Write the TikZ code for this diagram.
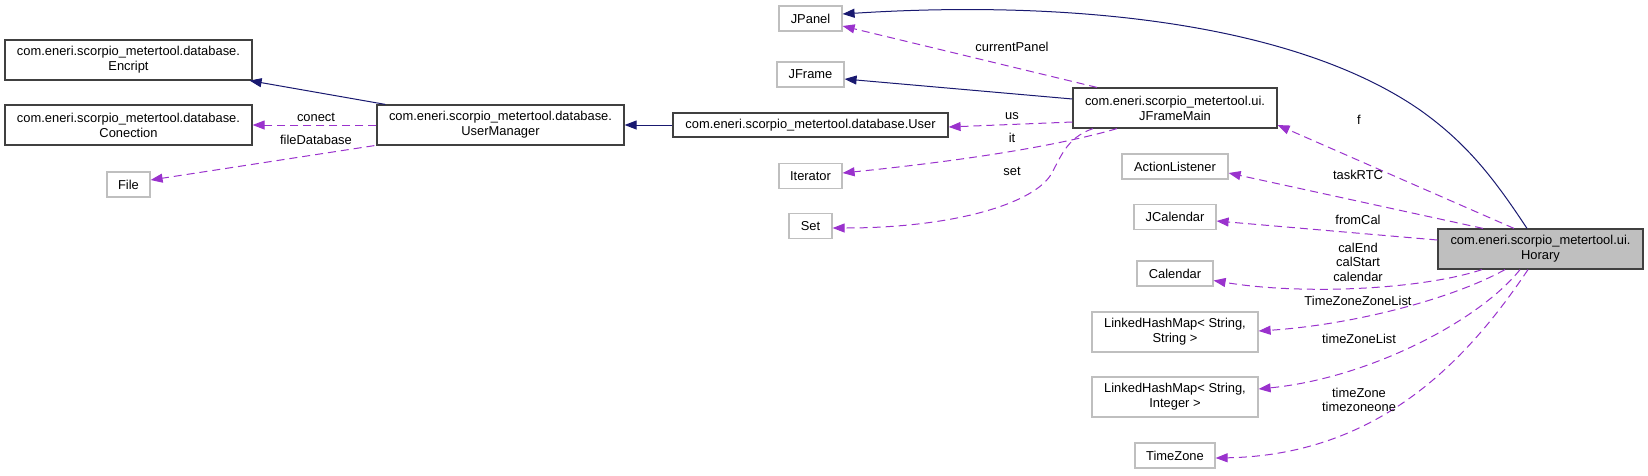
\documentclass[tikz,border=0pt]{standalone}
\usepackage{fontspec}
\setmainfont{Liberation Sans}
\usetikzlibrary{arrows.meta,calc}
\newcommand\dgfont{\fontsize{12.9}{15}\selectfont}
\definecolor{navyc}{HTML}{191970}
\definecolor{orchidc}{HTML}{9A32CD}
\definecolor{gtwentyfive}{HTML}{404040}
\definecolor{gseventyfive}{HTML}{BFBFBF}
\tikzset{
  cls/.style={draw=gtwentyfive, fill=white, line width=1.2pt, inner sep=0pt, align=center, font=\dgfont},
  ext/.style={cls, draw=gseventyfive},
  cur/.style={cls, fill=gseventyfive},
  inh/.style={draw=navyc, line width=1pt, -{Triangle[length=12pt,width=9pt]}},
  usedge/.style={draw=orchidc, line width=1pt, dash pattern=on 8pt off 5pt, -{Triangle[length=12pt,width=9pt]}},
  lbl/.style={font=\dgfont, inner sep=0pt, align=center}
}
\begin{document}
\begin{tikzpicture}[x=1pt,y=-1pt]
\useasboundingbox (0,0) rectangle (1648,475);
% column 1
\node[cls, minimum width=247pt, minimum height=40pt] (enc) at (128.5,60) {com.eneri.scorpio\_metertool.database.\\Encript};
\node[cls, minimum width=247pt, minimum height=40pt] (con) at (128.5,125) {com.eneri.scorpio\_metertool.database.\\Conection};
\node[ext, minimum width=43pt, minimum height=25pt] (file) at (128.5,184.5) {File};
% column 2
\node[cls, minimum width=247pt, minimum height=40pt] (um) at (500.5,125) {com.eneri.scorpio\_metertool.database.\\UserManager};
% column 3
\node[ext, minimum width=63pt, minimum height=25pt] (jpanel) at (810.5,18.5) {JPanel};
\node[ext, minimum width=67pt, minimum height=25pt] (jframe) at (810.5,74.5) {JFrame};
\node[cls, minimum width=275pt, minimum height=24pt] (user) at (810.5,125) {com.eneri.scorpio\_metertool.database.User};
\node[ext, minimum width=63pt, minimum height=25pt] (iter) at (810.5,176) {Iterator};
\node[ext, minimum width=43pt, minimum height=25pt] (set) at (810.5,226) {Set};
% column 4
\node[cls, minimum width=204pt, minimum height=40pt] (jfm) at (1175,108) {com.eneri.scorpio\_metertool.ui.\\JFrameMain};
\node[ext, minimum width=106pt, minimum height=25pt] (al) at (1175,166.5) {ActionListener};
\node[ext, minimum width=82pt, minimum height=25pt] (jcal) at (1175,217) {JCalendar};
\node[ext, minimum width=76pt, minimum height=25pt] (cal) at (1175,273.5) {Calendar};
\node[ext, minimum width=166pt, minimum height=40pt] (lhms) at (1175,332) {LinkedHashMap< String,\\String >};
\node[ext, minimum width=166pt, minimum height=40pt] (lhmi) at (1175,397) {LinkedHashMap< String,\\Integer >};
\node[ext, minimum width=80pt, minimum height=25pt] (tz) at (1175,455.5) {TimeZone};
% column 5
\node[cur, minimum width=205pt, minimum height=40pt] (hor) at (1540.5,249) {com.eneri.scorpio\_metertool.ui.\\Horary};

% inheritance edges
\draw[inh] ($(hor.north)+(-13.5,0)$) .. controls (1495,180) and (1468,144) .. (1420,110)
  .. controls (1290,20) and (1060,0) .. ($(jpanel.east)+(0,-4.5)$);
\draw[inh] ($(jfm.west)+(0,-9)$) -- ($(jframe.east)+(0,4.5)$);
\draw[inh] (user.west) -- (um.east);
\draw[inh] ($(um.north west)+(9,0)$) -- ($(enc.south east)+(-3,0)$);

% usage edges
\draw[usedge] ($(hor.north)+(-26.5,0)$) -- ($(jfm.east)+(0,17)$);
\draw[usedge] ($(hor.north)+(-57.5,0)$) -- ($(al.east)+(0,6.5)$);
\draw[usedge] ($(hor.west)+(0,-9)$) -- ($(jcal.east)+(0,4)$);
\draw[usedge] ($(hor.south)+(-58.5,0)$) .. controls (1420,290) and (1300,295) .. ($(cal.east)+(0,7)$);
\draw[usedge] ($(hor.south)+(-35.5,0)$) .. controls (1450,300) and (1350,325) .. ($(lhms.east)+(0,-1)$);
\draw[usedge] ($(hor.south)+(-20.5,0)$) .. controls (1480,320) and (1370,378) .. ($(lhmi.east)+(0,-8)$);
\draw[usedge] ($(hor.south)+(-12.5,0)$) .. controls (1468,359) and (1380,455) .. ($(tz.east)+(0,2.5)$);

\draw[usedge] ($(jfm.north)+(-78,0)$) -- ($(jpanel.east)+(0,7.5)$);
\draw[usedge] ($(jfm.west)+(0,14)$) -- ($(user.east)+(0,2)$);
\draw[usedge] ($(jfm.south)+(-58,0)$) .. controls (1050,148) and (950,162) .. ($(iter.east)+(0,-3)$);
\draw[usedge] ($(jfm.south)+(-82,0)$) .. controls (1065,138) and (1060,160) .. (1050,176)
  .. controls (1030,205) and (950,228) .. ($(set.east)+(0,2)$);

\draw[usedge] (um.west) -- (con.east);
\draw[usedge] ($(um.south west)+(-2,0)$) -- ($(file.east)+(0,-4.5)$);

% labels
\node[lbl] (lconect) at (316,117) {conect};
\node[lbl] (lfiledb) at (316,140) {fileDatabase};
\node[lbl] (lcur) at (1012,47) {currentPanel};
\node[lbl] (lus) at (1012,116) {us};
\node[lbl] (lit) at (1012,138) {it};
\node[lbl] (lset) at (1012,171) {set};
\node[lbl] (lf) at (1359,120) {f};
\node[lbl] (ltask) at (1358,175) {taskRTC};
\node[lbl] (lfrom) at (1358,220) {fromCal};
\node[lbl, font={\fontsize{12.9}{14.5}\selectfont}] (lcal) at (1358,262) {calEnd\\calStart\\calendar};
\node[lbl] (ltzzl) at (1358,301) {TimeZoneZoneList};
\node[lbl] (ltzl) at (1359,339) {timeZoneList};
\node[lbl, font={\fontsize{12.9}{14.5}\selectfont}] (ltz) at (1359,400) {timeZone\\timezoneone};
\end{tikzpicture}
\end{document}
